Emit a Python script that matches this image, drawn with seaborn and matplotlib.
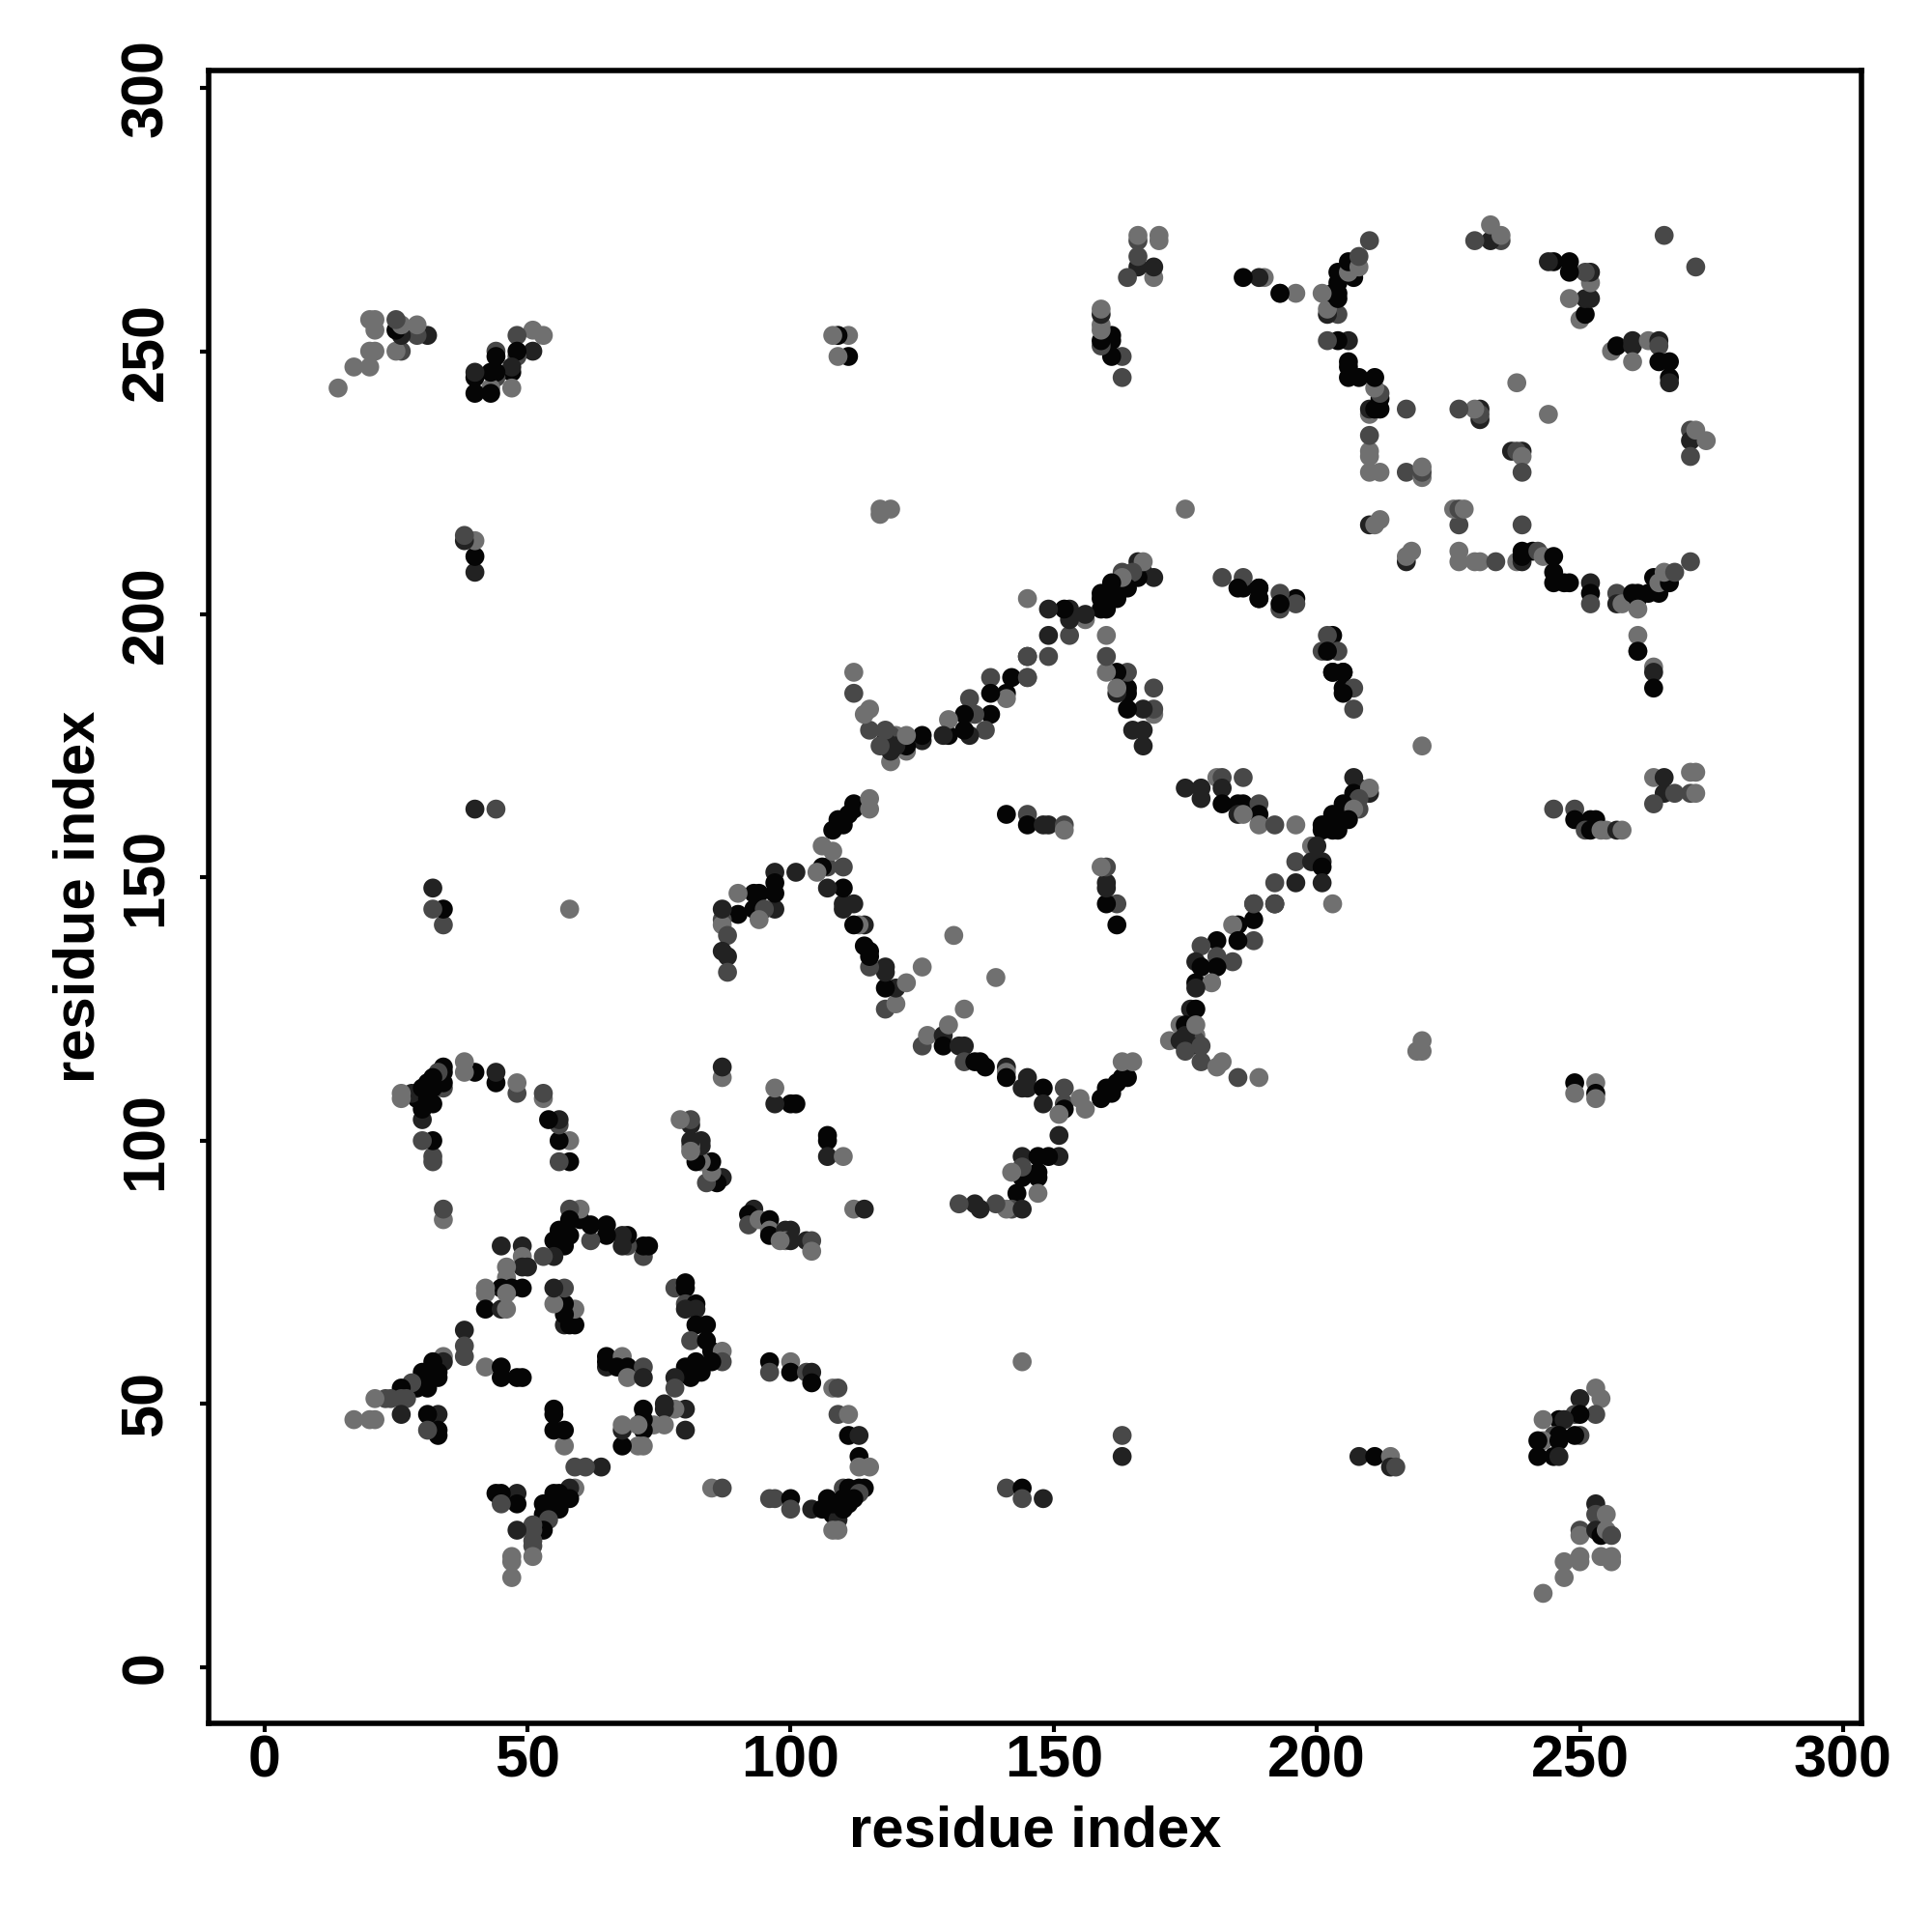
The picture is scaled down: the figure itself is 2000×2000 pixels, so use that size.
import pandas as pd
import matplotlib
matplotlib.use('Agg')
import matplotlib.pyplot as plt
import seaborn as sns

# contact map is symmetric, so only the half with residue_a > residue_b is listed
# shade: 0 black, 1 dark, 2 mid, 3 light
residue_a = [
    78, 80, 80, 80, 82, 80, 82, 82, 84, 81, 84, 85, 87, 87, 85, 82, 83, 80, 81, 78, 78,
    80, 80, 78, 76, 76, 76, 74, 72, 72, 72, 72, 71, 68, 68, 68, 71,
    64, 61, 59, 59, 58, 58, 56, 55, 56, 55, 54, 53, 53, 54, 53, 51, 51, 51, 51, 51, 48, 47, 47, 47, 48, 48, 45, 44, 45,
    57, 57, 55, 55, 55, 65, 65, 65, 68, 67, 69, 69, 72, 72,
    93, 92, 92, 94, 96, 96, 96, 99, 100, 99, 100, 98, 103, 104, 104,
    96, 96, 100, 100, 103, 104, 104, 108, 109, 109, 111, 111, 113, 113, 113, 115,
    110, 111, 113, 114, 107, 111, 113, 104, 106, 109, 108, 109, 108, 109, 110, 112, 110, 108,
    96, 97, 100, 100, 144, 163, 163, 141, 144, 144, 148, 85, 87,
    151, 151, 144, 147, 149, 147, 147, 144, 144, 142, 143, 147, 142, 141, 139, 136, 135, 144, 132, 112, 114,
    107, 107, 107, 110,
    125, 126, 129, 129, 130, 133, 132, 133, 133, 135, 136, 137, 141, 141, 141, 145, 144, 145, 148, 148,
    152, 152, 152, 151, 155, 156, 159, 160, 161, 162, 163, 164, 163, 165, 139,
    162, 162, 160, 160, 160, 160, 159,
    175, 178, 178, 181, 182, 182, 182, 186, 185, 186, 189, 189, 189, 185, 186, 192,
    192, 192, 188, 188, 185, 184, 188, 185, 181, 181, 178, 184, 181, 177, 178, 177, 180, 177, 176, 177,
    174, 175, 176, 177, 172, 174, 177, 175, 176, 177, 178, 175, 178, 181, 182, 185, 189,
    207, 208, 207, 210, 210, 208, 205, 208, 207, 203, 206, 204, 201, 203, 204, 201, 203,
    199, 200, 196, 199, 201, 201, 196, 201, 188, 203, 192,
    196, 220, 220, 219, 220,
    245, 249, 249, 252, 253, 251, 252, 254, 255, 257, 258,
    264, 266, 266, 268, 264, 271, 272, 271, 272,
    203, 205, 205, 207, 205, 207,
    261, 261, 261, 264, 264, 264, 203, 202, 204, 201, 202, 203, 205,
    227, 227, 230, 231, 234, 238, 239, 239, 239, 241, 242, 243, 245, 245, 245, 247, 248,
    252, 252, 252, 257, 257, 258, 260, 261, 261, 261, 263, 265, 264, 265, 267, 266, 268, 271,
    227, 226, 227, 228, 239, 217, 217, 218,
    244, 237, 239, 238, 239, 239,
    271, 271, 272, 274, 271, 272,
    256, 257, 260, 260, 260, 263, 265, 265, 265, 267, 267, 267,
    208, 211, 214, 214, 215,
    253, 254, 250, 253, 249, 250, 246, 247, 243, 245, 250, 249, 246, 243, 242, 246, 242, 245, 246,
    253, 253, 255, 250, 250, 253, 254, 255, 256, 250, 250, 247, 247, 243, 254, 256, 256,
    249, 249, 253, 253, 253,
]
residue_b = [
    72, 73, 72, 69, 69, 68, 68, 65, 65, 62, 62, 60, 60, 58, 58, 58, 56, 57, 55, 55, 53,
    49, 45, 49, 50, 49, 46, 46, 49, 47, 45, 42, 42, 42, 45, 46, 46,
    38, 38, 38, 34, 34, 32, 33, 33, 30, 30, 31, 31, 29, 28, 26, 26, 27, 24, 23, 21, 26, 21, 20, 17, 33, 31, 33, 33, 31,
    42, 45, 45, 48, 49, 57, 58, 59, 59, 57, 57, 55, 57, 55,
    87, 86, 84, 85, 85, 83, 82, 83, 83, 81, 81, 81, 81, 81, 79,
    58, 56, 58, 56, 56, 56, 54, 53, 53, 48, 48, 44, 44, 40, 38, 38,
    34, 34, 34, 34, 32, 31, 33, 30, 30, 29, 29, 28, 26, 26, 32, 32, 30, 31,
    32, 32, 32, 30, 58, 44, 40, 34, 34, 32, 32, 34, 34,
    101, 97, 97, 97, 97, 94, 93, 93, 95, 94, 90, 90, 87, 87, 88, 87, 88, 87, 88, 87, 87,
    101, 100, 97, 97,
    118, 120, 120, 118, 122, 125, 118, 118, 115, 115, 115, 114, 114, 113, 112, 112, 110, 110, 110, 107,
    110, 107, 106, 105, 108, 106, 108, 110, 109, 111, 112, 112, 115, 115, 131,
    141, 145, 145, 148, 149, 152, 152,
    167, 167, 165, 169, 169, 167, 164, 169, 164, 164, 164, 162, 160, 162, 162, 160,
    149, 145, 145, 142, 141, 141, 138, 138, 138, 135, 137, 134, 133, 134, 133, 130, 130, 129, 125, 125,
    122, 122, 120, 120, 119, 119, 119, 120, 118, 122, 118, 117, 115, 114, 115, 112, 112,
    169, 167, 166, 166, 167, 165, 164, 163, 163, 162, 161, 161, 160, 160, 159, 159, 159,
    156, 156, 153, 153, 153, 152, 149, 149, 145, 145, 145,
    160, 175, 119, 117, 117,
    163, 163, 161, 161, 161, 159, 159, 159, 159, 159, 159,
    169, 169, 166, 166, 164, 170, 170, 166, 166,
    189, 189, 186, 186, 185, 182,
    196, 193, 193, 190, 189, 186, 196, 196, 193, 193, 193, 189, 189,
    212, 210, 210, 210, 210, 210, 210, 211, 212, 212, 212, 211, 211, 208, 206, 206, 206,
    206, 204, 202, 204, 202, 202, 204, 204, 203, 201, 204, 204, 207, 206, 206, 208, 208, 210,
    217, 220, 220, 220, 217, 210, 211, 212,
    238, 231, 231, 231, 230, 227,
    235, 233, 235, 233, 230, 266,
    250, 251, 252, 251, 248, 252, 252, 251, 248, 248, 245, 244,
    40, 40, 40, 38, 38,
    53, 51, 51, 48, 48, 48, 47, 47, 47, 44, 44, 44, 44, 43, 43, 43, 40, 40, 40,
    31, 29, 29, 26, 25, 26, 25, 26, 25, 21, 20, 20, 17, 14, 21, 21, 20,
    111, 109, 111, 109, 108,
]
shade = [
    2, 0, 0, 2, 0, 1, 1, 0, 0, 2, 0, 0, 3, 2, 0, 0, 0, 0, 0, 1, 2,
    1, 1, 3, 1, 1, 3, 3, 0, 0, 0, 3, 3, 0, 1, 3, 3,
    1, 2, 2, 3, 1, 0, 0, 0, 0, 0, 0, 0, 0, 2, 0, 2, 2, 2, 2, 3, 1, 3, 3, 3, 1, 0, 0, 0, 2,
    3, 0, 0, 0, 0, 1, 0, 0, 3, 0, 0, 3, 2, 1,
    1, 0, 2, 3, 0, 3, 0, 1, 1, 3, 1, 3, 1, 2, 3,
    0, 2, 3, 0, 2, 1, 0, 3, 2, 2, 3, 0, 1, 0, 3, 3,
    2, 0, 0, 0, 0, 0, 2, 1, 0, 1, 0, 1, 3, 3, 0, 0, 0, 0,
    2, 2, 0, 2, 3, 2, 1, 2, 0, 2, 1, 3, 2,
    1, 1, 1, 0, 0, 0, 0, 0, 2, 3, 0, 3, 2, 3, 2, 1, 1, 1, 2, 3, 1,
    0, 0, 1, 3,
    2, 3, 1, 0, 3, 3, 1, 1, 2, 0, 0, 0, 1, 3, 0, 1, 1, 1, 0, 1,
    2, 2, 0, 3, 3, 3, 0, 0, 0, 0, 0, 0, 3, 3, 3,
    0, 2, 0, 1, 1, 2, 3,
    1, 1, 1, 3, 2, 1, 0, 2, 0, 0, 2, 0, 3, 1, 3, 2,
    2, 0, 2, 0, 0, 3, 2, 0, 0, 2, 2, 2, 0, 1, 0, 0, 3, 1, 1, 0,
    3, 0, 2, 3, 3, 1, 2, 1, 1, 3, 2, 2, 2, 3, 3, 2, 3,
    1, 1, 0, 1, 3, 2, 0, 2, 3, 0, 0, 0, 0, 0, 0, 0, 0,
    3, 1, 2, 1, 1, 0, 1, 1, 2, 3, 2,
    3, 3, 3, 3, 3,
    2, 2, 0, 0, 0, 2, 0, 3, 3, 1, 3,
    3, 1, 1, 2, 2, 3, 3, 2, 3,
    1, 0, 0, 2, 0, 2,
    3, 3, 0, 3, 1, 0, 0, 2, 2, 2, 0, 0, 0,
    3, 3, 3, 3, 2, 3, 1, 0, 0, 0, 2, 3, 0, 0, 0, 0, 0,
    1, 0, 2, 2, 1, 3, 0, 0, 0, 3, 0, 0, 0, 3, 0, 3, 2, 2,
    2, 3, 2, 3, 2, 1, 3, 3,
    3, 1, 1, 2, 3, 2,
    2, 1, 3, 3, 2, 2,
    3, 0, 1, 1, 3, 3, 1, 2, 0, 0, 0, 1,
    1, 0, 3, 1, 2,
    3, 3, 1, 2, 2, 0, 0, 1, 3, 2, 2, 0, 0, 3, 0, 0, 0, 0, 1,
    1, 2, 3, 2, 3, 1, 0, 3, 2, 3, 3, 3, 3, 3, 3, 3, 3,
    0, 3, 3, 0, 3,
]
shade_colors = {0: '#050505', 1: '#222222', 2: '#484848', 3: '#707070'}
tick_values = [0, 50, 100, 150, 200, 250, 300]

half = pd.DataFrame({'x': residue_a, 'y': residue_b, 'shade': shade})
mirror = half.rename(columns={'x': 'y', 'y': 'x'})
df = pd.concat([half, mirror], ignore_index=True)

sns.set_theme(style='white')
plt.rcParams['font.family'] = ['Liberation Sans', 'DejaVu Sans']

fig = plt.figure(figsize=(10, 10), dpi=200)
ax = fig.add_axes([0.108, 0.108, 0.8555, 0.8557])
sns.scatterplot(data=df, x='x', y='y', hue='shade', palette=shade_colors,
                s=50, linewidth=0, legend=False, ax=ax, clip_on=False)

ax.set_xlim(-10.6, 303.5)
ax.set_ylim(-10.7, 303.4)
ax.set_xticks(tick_values)
ax.set_yticks(tick_values)
ax.tick_params(axis='both', which='major', bottom=True, left=True, length=3.1, width=1.5, color='black')
ax.tick_params(axis='x', pad=1)
ax.tick_params(axis='y', pad=9.5)
for lab in ax.get_xticklabels():
    lab.set_fontsize(22)
    lab.set_fontweight('bold')
    lab.set_color('black')
for lab in ax.get_yticklabels():
    lab.set_fontsize(22)
    lab.set_fontweight('bold')
    lab.set_color('black')
    lab.set_rotation(90)
    lab.set_va('center')

ax.set_xlabel('residue index', fontsize=21.5, fontweight='bold', color='black')
ax.set_ylabel('residue index', fontsize=21.5, fontweight='bold', color='black')
ax.xaxis.set_label_coords(0.5, -0.0494)
ax.yaxis.set_label_coords(-0.0621, 0.5)

for spine in ax.spines.values():
    spine.set_linewidth(2)
    spine.set_color('black')

fig.savefig('out.png', dpi=200)
plt.close(fig)
